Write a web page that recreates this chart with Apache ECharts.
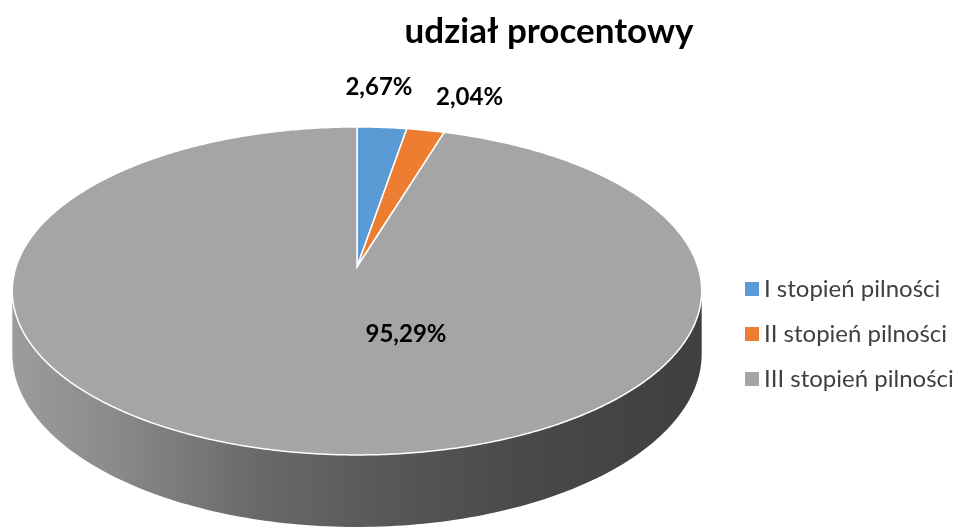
<!DOCTYPE html>
<html><head><meta charset="utf-8">
<script src="https://cdn.jsdelivr.net/npm/echarts@6/dist/echarts.min.js"></script>
<style>html,body{margin:0;padding:0;background:#fff}#c{width:958px;height:531px}</style>
</head><body><div id="c"></div>
<script>
var categories = ['I stopień pilności', 'II stopień pilności', 'III stopień pilności'];
var values = [2.67, 2.04, 95.29];
var labels = ['2,67%', '2,04%', '95,29%'];
var colors = ['#5b9bd5', '#ed7d31', '#a5a5a5'];

// perspective projection of the pie disk
var CX = 357, VY = 267, A = 341, B = 160.5, PC = 0.146, T0 = 61.5;
var total = values.reduce(function(a,b){return a+b;},0);
var labelOffsets = [[-3,-40],[44,-33],[0,0]];
function pt(th){ var r = th*Math.PI/180, d = 1 + PC*Math.cos(r); return [CX + A*Math.sin(r)/d, VY - B*Math.cos(r)/d]; }
function thick(th){ var r = th*Math.PI/180; return T0/(1 + PC*Math.cos(r)); }
var SIL = 90 + Math.asin(PC)*180/Math.PI;
var wallGrad = {type:'linear', x:12, y:0, x2:702, y2:0, global:true, colorStops:[
  {offset:0,color:'#9c9c9c'},{offset:0.15,color:'#8a8a8a'},{offset:0.35,color:'#6a6a6a'},
  {offset:0.55,color:'#575757'},{offset:0.75,color:'#494949'},{offset:1,color:'#3f3f3f'}]};

function makeRender(idx){
  return function(params, api){
    var before = 0; for (var i=0;i<idx;i++) before += values[i];
    var v = api.value(0);
    var a0 = before/total*360, a1 = (before+v)/total*360;
    var children = [];
    var w0 = Math.max(a0, SIL), w1 = Math.min(a1, 360-SIL);
    if (w1 > w0) {
      var angs = [];
      for (var t=w0; t<w1; t+=1) angs.push(t);
      angs.push(w1);
      var top = angs.map(function(a){ return pt(a); });
      var bot = angs.slice().reverse().map(function(a){ var p = pt(a); return [p[0], p[1] + thick(a)]; });
      children.push({type:'polygon', shape:{points: top.concat(bot)}, style:{fill: idx===2 ? wallGrad : colors[idx], stroke:null}});
    }
    var pts = [[CX, VY]];
    for (var t2=a0; t2<a1; t2+=0.5) pts.push(pt(t2));
    pts.push(pt(a1));
    children.push({type:'polygon', shape:{points: pts}, style:{fill: colors[idx], stroke:'#ffffff', lineWidth:1.5}});
    var mid = (a0+a1)/2, lp;
    if (idx===2) { lp = [406, 334]; }
    else { var e = pt(mid); lp = [e[0]+labelOffsets[idx][0], e[1]+labelOffsets[idx][1]]; }
    children.push({type:'text', x: lp[0], y: lp[1], style:{text: labels[idx], fill:'#000', font:'bold 24px Lato', align:'center', verticalAlign:'middle'}});
    return {type:'group', children: children};
  };
}

var series = categories.map(function(name, i){
  return {type:'custom', name: name, coordinateSystem:'none', data:[[values[i]]], renderItem: makeRender(i), itemStyle:{color: colors[i]}, silent:true, animation:false};
});

var chart = echarts.init(document.getElementById('c'));
chart.setOption({
  animation:false,
  title:{text:'udział procentowy', left:544, top:9, textAlign:'center', textStyle:{fontFamily:'Lato', fontSize:35, fontWeight:'bold', color:'#000'}},
  legend:{orient:'vertical', left:740, top:272, itemWidth:14, itemHeight:14, itemGap:21, icon:'rect',
    textStyle:{fontFamily:'Lato', fontSize:24, color:'#404040'}, data: categories},
  series: series
});
</script></body></html>
